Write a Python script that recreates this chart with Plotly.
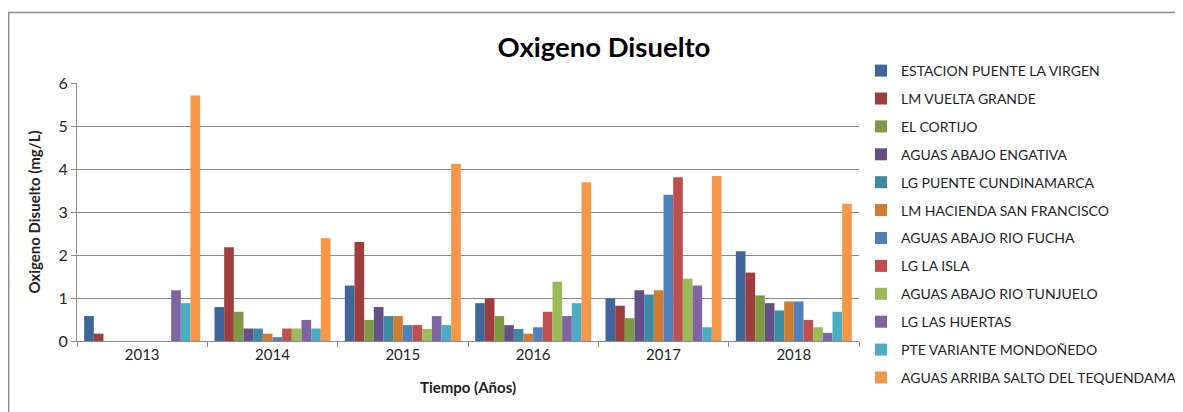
"""Oxigeno Disuelto - grouped bar chart by monitoring station."""

import plotly.graph_objects as go

years = ["2013", "2014", "2015", "2016", "2017", "2018"]

stations = [
    "ESTACION PUENTE LA VIRGEN",
    "LM VUELTA GRANDE",
    "EL CORTIJO",
    "AGUAS ABAJO ENGATIVA",
    "LG PUENTE CUNDINAMARCA",
    "LM HACIENDA SAN FRANCISCO",
    "AGUAS ABAJO RIO FUCHA",
    "LG LA ISLA",
    "AGUAS ABAJO RIO TUNJUELO",
    "LG LAS HUERTAS",
    "PTE VARIANTE MONDOÑEDO",
    "AGUAS ARRIBA SALTO DEL TEQUENDAMA",
]

# one list per station, values in mg/L for 2013..2018 (None = no data)
puente_la_virgen = [0.58, 0.79, 1.29, 0.88, 0.99, 2.09]
vuelta_grande = [0.17, 2.18, 2.30, 0.99, 0.82, 1.59]
el_cortijo = [None, 0.68, 0.49, 0.58, 0.53, 1.06]
abajo_engativa = [None, 0.29, 0.79, 0.37, 1.18, 0.88]
puente_cundinamarca = [None, 0.29, 0.58, 0.28, 1.08, 0.71]
hacienda_san_francisco = [None, 0.17, 0.58, 0.17, 1.18, 0.92]
abajo_rio_fucha = [None, 0.09, 0.37, 0.32, 3.40, 0.92]
la_isla = [None, 0.29, 0.37, 0.68, 3.81, 0.49]
abajo_rio_tunjuelo = [None, 0.29, 0.28, 1.38, 1.45, 0.32]
las_huertas = [1.18, 0.49, 0.58, 0.58, 1.29, 0.19]
variante_mondonedo = [0.88, 0.29, 0.37, 0.88, 0.32, 0.68]
salto_tequendama = [5.71, 2.39, 4.12, 3.69, 3.84, 3.19]

series = [
    puente_la_virgen, vuelta_grande, el_cortijo, abajo_engativa,
    puente_cundinamarca, hacienda_san_francisco, abajo_rio_fucha, la_isla,
    abajo_rio_tunjuelo, las_huertas, variante_mondonedo, salto_tequendama,
]

colors = [
    "#3D679A", "#9E3D3B", "#7D9A43", "#664E87", "#3A8BA3", "#D07A32",
    "#4F81BD", "#C0504D", "#9BBB59", "#8064A2", "#4BACC6", "#F79646",
]

FONT = "Lato"
TEXT = "#1f1f1f"
GRID = "#8a8a8a"
# page body has an 8px margin, so the figure is 8px smaller than the window
W, H = 1175, 404

fig = go.Figure()
for i, (name, vals) in enumerate(zip(stations, series)):
    fig.add_trace(
        go.Bar(
            x=years,
            y=vals,
            name=name,
            legendgroup=f"g{i}",
            marker=dict(color=colors[i], line=dict(width=0)),
        )
    )

# outer chart frame (Excel style)
fig.add_shape(
    type="rect", xref="paper", yref="paper",
    x0=-0.0874, x1=1.6, y0=-0.4, y1=1.2733,
    line=dict(color="#8c8c8c", width=1.5), layer="below",
)

fig.update_layout(
    width=W,
    height=H,
    paper_bgcolor="white",
    plot_bgcolor="white",
    barmode="group",
    bargap=0.11,
    bargroupgap=0,
    margin=dict(l=69, r=324, t=75, b=71, autoexpand=False),
    font=dict(family=FONT, color=TEXT, size=14),
    title=dict(
        text="<b>Oxigeno Disuelto</b>",
        font=dict(family=FONT, size=27.5, color="black"),
        x=596 / W, xanchor="center",
        y=1 - 39 / H, yanchor="middle",
    ),
    showlegend=True,
    legend=dict(
        xref="container", yref="container",
        x=853 / W, xanchor="left",
        y=1 - 47 / H, yanchor="top",
        maxheight=400,
        font=dict(family=FONT, size=14, color=TEXT),
        tracegroupgap=6.7,
        itemwidth=30,
        bgcolor="rgba(0,0,0,0)",
    ),
    xaxis=dict(
        title=dict(text="<b>Tiempo (Años)</b>", font=dict(size=15, color=TEXT), standoff=20),
        automargin=False,
        showline=True, linecolor=GRID, linewidth=1,
        ticks="outside", ticklen=5, tickcolor=GRID,
        tickson="boundaries",
        tickfont=dict(size=15, color=TEXT),
        showgrid=False,
    ),
    yaxis=dict(
        title=dict(text="<b>Oxigeno Disuelto (mg/L)</b>", font=dict(size=15, color=TEXT), standoff=14),
        automargin=False,
        range=[0, 6], dtick=1,
        showline=True, linecolor=GRID, linewidth=1,
        ticks="outside", ticklen=5, tickcolor=GRID,
        tickfont=dict(size=16, color=TEXT),
        showgrid=True, gridcolor=GRID, gridwidth=1,
        zeroline=False,
    ),
)

fig.write_html("out.html")
